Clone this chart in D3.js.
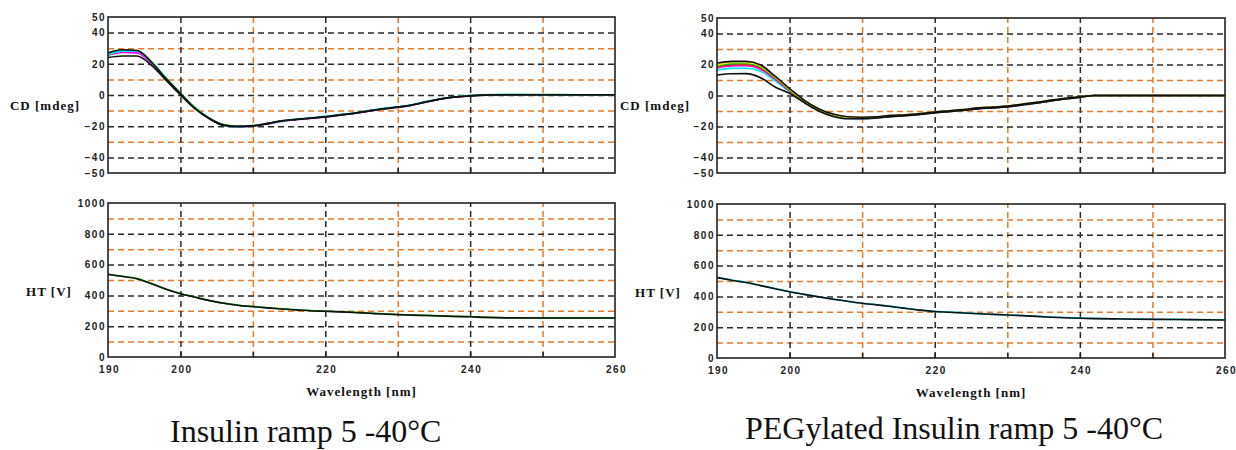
<!DOCTYPE html>
<html>
<head>
<meta charset="utf-8">
<script src="https://cdn.jsdelivr.net/npm/d3@7"></script>
<style>
  body { margin: 0; background: #fff; }
  .tick text { font-family: "Liberation Sans", Arial, sans-serif; font-size: 10px; font-weight: bold; letter-spacing: 1.5px; fill: #222; }
  .title { font-family: "Liberation Serif", "Times New Roman", serif; font-weight: bold; font-size: 13px; letter-spacing: 1px; fill: #111; }
  .caption { font-family: "Liberation Serif", "Times New Roman", serif; font-size: 32px; fill: #111; }
</style>
</head>
<body>
<svg id="chart" width="1236" height="450"></svg>
<script>
// wavelengths (nm) shared by every trace
var wavelength = [190,192,194,196,198,200,202,204,206,208,210,212,214,216,218,220,222,224,226,228,230,232,234,236,238,240,242,245,250,255,260];

// Insulin CD [mdeg]
var insCdBlackTop = [27,29,28.5,21,10.5,1,-8.5,-15,-19.2,-20,-19.6,-18.2,-16.5,-15.6,-14.8,-13.9,-12.8,-11.7,-10.2,-8.8,-7.8,-6.4,-4.3,-2.5,-1.2,-0.5,0,0.2,0.2,0.2,0.2];
var insCdCyan     = [26,28,28,21,10.5,0.5,-8.5,-15.2,-19.5,-20.3,-19.8,-18.4,-16.8,-15.4,-14.6,-13.7,-12.6,-11.5,-10,-8.6,-7.6,-6.2,-4.1,-2.4,-1.1,-0.4,0.1,0.3,0.2,0.2,0.2];
var insCdGreen    = [25.5,28.5,28.5,21.5,11,1.2,-8,-14.8,-19,-20.1,-19.7,-18.3,-16.6,-15.5,-14.7,-13.8,-12.7,-11.6,-10.1,-8.7,-7.7,-6.3,-4.2,-2.4,-1.1,-0.4,0.1,0.3,0.3,0.2,0.2];
var insCdMagenta  = [25.5,27.2,27,20.3,10,0.5,-8.6,-15.1,-19.4,-20.4,-20,-18.6,-16.9,-15.9,-15,-14.1,-13,-11.9,-10.4,-9,-7.9,-6.5,-4.4,-2.6,-1.3,-0.6,-0.1,0.1,0.2,0.2,0.2];
var insCdBlackLow = [24,25,25,19,9.5,0,-8.8,-15.3,-19.5,-20.3,-19.9,-18.5,-16.7,-15.7,-14.9,-14,-12.9,-11.8,-10.3,-8.9,-7.9,-6.5,-4.4,-2.6,-1.3,-0.6,0,0.2,0.2,0.2,0.2];

// PEGylated insulin CD [mdeg]
var pegCdBlackTop = [20.8,22,22,19.7,12.5,4.5,-3,-8.5,-12,-13.7,-14,-13.7,-12.8,-12.4,-11.6,-10.6,-9.8,-9,-8,-7.4,-6.8,-5.6,-4.4,-3,-1.8,-0.8,0,0,0,0,0];
var pegCdYellow   = [19.5,21.3,21.3,19,12,4,-3.2,-8.8,-12.3,-14,-14.3,-13.9,-13,-12.5,-11.7,-10.7,-9.9,-9.1,-8.1,-7.5,-6.9,-5.7,-4.5,-3.1,-1.9,-0.9,0,0,0,0,0];
var pegCdGreen    = [19,20.5,20.6,18.3,11.5,3.7,-3.4,-9,-12.5,-14.2,-14.5,-14,-13.2,-12.6,-11.8,-10.8,-10,-9.2,-8.2,-7.6,-7,-5.8,-4.6,-3.2,-2,-1,0,0,0,0,0];
var pegCdRed      = [18.5,19.8,19.9,17.6,11,3.3,-3.6,-9.2,-12.7,-14.4,-14.6,-14.1,-13.3,-12.7,-11.9,-10.9,-10.1,-9.3,-8.3,-7.7,-7.1,-5.9,-4.7,-3.3,-2,-1,0,0,0,0,0];
var pegCdMagenta  = [17.8,19,19.2,17,10.5,3,-3.8,-9.4,-12.9,-14.6,-14.8,-14.3,-13.4,-12.8,-12,-11,-10.2,-9.4,-8.4,-7.8,-7.2,-6,-4.8,-3.4,-2.1,-1.1,0,0,0,0,0];
var pegCdCyan     = [16.5,17.5,17.6,15.7,9.5,2.4,-4.1,-9.6,-13.1,-14.8,-14.9,-14.4,-13.5,-12.9,-12.1,-11.1,-10.3,-9.5,-8.5,-7.9,-7.3,-6.1,-4.9,-3.5,-2.2,-1.1,0,0,0,0,0];
var pegCdBlackLow = [13.2,14,14.1,11.5,5.5,1.4,-4.5,-10,-13.5,-15,-15,-14.5,-13.6,-13,-12.2,-11.2,-10.4,-9.6,-8.6,-8,-7.4,-6.2,-5,-3.6,-2.3,-1.2,0,0,0,0,0];

// HT [V]
var insHtGreen = [538,524,509,477,441,412,389,367,350,336,328,320,313,307,301,298,294,290,285,280,276,273,270,267,264,262,258,255,254,254,254];
var insHtBlack = [536,523,508,476,440,411,388,366,349,335,327,319,312,306,300,297,293,289,284,279,275,272,269,266,263,261,257,254,253,253,253];
var pegHtCyan  = [524,507,491,471,451,431,414,398,383,369,356,346,335,323,312,303,298,293,288,284,280,276,271,266,262,259,257,255,252,250,248];
var pegHtBlack = [522,505,490,470,450,430,413,397,382,368,355,345,334,322,311,302,297,292,287,283,279,275,270,265,261,258,256,254,251,249,247];

// axis ticks and grid
var cdTickLabels = [50,40,20,0,-20,-40,-50];
var cdGridMajor = [40,20,0,-20,-40];
var cdGridMinor = [30,10,-10,-30];
var htTickLabels = [1000,800,600,400,200,0];
var htGridMajor = [800,600,400,200];
var htGridMinor = [900,700,500,300,100];
var wlTickLabels = [190,200,220,240,260];
var wlGridMajor = [200,220,240];
var wlGridMinor = [210,230,250];

var svg = d3.select("#chart");
var orange = "#e47c2c";
var gridBlack = "#2a2a2a";

function drawPanel(p) {
    var x = d3.scaleLinear().domain([190, 260]).range([p.x0, p.x1]);
    var y = d3.scaleLinear().domain(p.yDomain).range([p.y1, p.y0]);
    var g = svg.append("g");
    var w = p.x1 - p.x0, h = p.y1 - p.y0;

    function styleGrid(color) {
        return function (s) {
            s.select(".domain").remove();
            s.selectAll(".tick line")
                .attr("stroke", color)
                .attr("stroke-width", 1.5)
                .attr("stroke-dasharray", "6,4");
        };
    }

    // orange minor grid first, black major grid over it
    g.append("g").attr("transform", "translate(0," + p.y1 + ")")
        .call(d3.axisBottom(x).tickValues(wlGridMinor).tickSize(-h).tickFormat(""))
        .call(styleGrid(orange));
    g.append("g").attr("transform", "translate(" + p.x0 + ",0)")
        .call(d3.axisLeft(y).tickValues(p.gridMinor).tickSize(-w).tickFormat(""))
        .call(styleGrid(orange));
    g.append("g").attr("transform", "translate(0," + p.y1 + ")")
        .call(d3.axisBottom(x).tickValues(wlGridMajor).tickSize(-h).tickFormat(""))
        .call(styleGrid(gridBlack));
    g.append("g").attr("transform", "translate(" + p.x0 + ",0)")
        .call(d3.axisLeft(y).tickValues(p.gridMajor).tickSize(-w).tickFormat(""))
        .call(styleGrid(gridBlack));

    // traces
    var line = d3.line()
        .x(function (d, i) { return x(wavelength[i]); })
        .y(function (d) { return y(d); })
        .curve(d3.curveMonotoneX);
    p.series.forEach(function (s) {
        g.append("path")
            .attr("d", line(s.values))
            .attr("fill", "none")
            .attr("stroke", s.color)
            .attr("stroke-width", 1.6);
    });

    // frame
    g.append("rect")
        .attr("x", p.x0).attr("y", p.y0)
        .attr("width", w).attr("height", h)
        .attr("fill", "none")
        .attr("stroke", "#222")
        .attr("stroke-width", 1.6);

    // small inward ticks
    g.append("g").attr("transform", "translate(0," + p.y1 + ")")
        .call(d3.axisBottom(x).tickValues(wlGridMajor.concat(wlGridMinor)).tickSize(-5).tickFormat(""))
        .call(function (s) { s.select(".domain").remove(); s.selectAll(".tick line").attr("stroke", "#222").attr("stroke-width", 1.5); });

    // y tick labels
    g.append("g").attr("transform", "translate(" + (p.x0 + 1) + ",0)")
        .call(d3.axisLeft(y).tickValues(p.yTicks).tickSize(0).tickPadding(3).tickFormat(d3.format("d")))
        .call(function (s) { s.select(".domain").remove(); });

    // x tick labels, only on the lower panel
    if (p.showX) {
        g.append("g").attr("transform", "translate(1," + p.y1 + ")")
            .call(d3.axisBottom(x).tickValues(wlTickLabels).tickSize(0).tickPadding(9).tickFormat(d3.format("d")))
            .call(function (s) { s.select(".domain").remove(); });
        g.append("text").attr("class", "title")
            .attr("x", (p.x0 + p.x1) / 2).attr("y", p.y1 + 39)
            .attr("text-anchor", "middle")
            .text("Wavelength [nm]");
    }

    g.append("text").attr("class", "title")
        .attr("x", p.titleX).attr("y", p.titleY)
        .attr("text-anchor", "middle")
        .attr("dy", "0.35em")
        .text(p.title);
}

drawPanel({
    x0: 108, x1: 615, y0: 17, y1: 173, yDomain: [-50, 50],
    yTicks: cdTickLabels, gridMajor: cdGridMajor, gridMinor: cdGridMinor,
    title: "CD [mdeg]", titleX: 45, titleY: 105, showX: false,
    series: [
        { values: insCdMagenta, color: "#ff00ff" },
        { values: insCdGreen, color: "#00c000" },
        { values: insCdCyan, color: "#00e5ff" },
        { values: insCdBlackLow, color: "#111" },
        { values: insCdBlackTop, color: "#111" }
    ]
});
drawPanel({
    x0: 108, x1: 615, y0: 203, y1: 357, yDomain: [0, 1000],
    yTicks: htTickLabels, gridMajor: htGridMajor, gridMinor: htGridMinor,
    title: "HT [V]", titleX: 49, titleY: 291, showX: true,
    series: [
        { values: insHtGreen, color: "#00c000" },
        { values: insHtBlack, color: "#111" }
    ]
});
drawPanel({
    x0: 717, x1: 1225, y0: 18, y1: 173, yDomain: [-50, 50],
    yTicks: cdTickLabels, gridMajor: cdGridMajor, gridMinor: cdGridMinor,
    title: "CD [mdeg]", titleX: 655, titleY: 105, showX: false,
    series: [
        { values: pegCdCyan, color: "#00e5ff" },
        { values: pegCdMagenta, color: "#ff00ff" },
        { values: pegCdRed, color: "#ff2020" },
        { values: pegCdGreen, color: "#00c000" },
        { values: pegCdYellow, color: "#ffe600" },
        { values: pegCdBlackLow, color: "#111" },
        { values: pegCdBlackTop, color: "#111" }
    ]
});
drawPanel({
    x0: 717, x1: 1225, y0: 204, y1: 358, yDomain: [0, 1000],
    yTicks: htTickLabels, gridMajor: htGridMajor, gridMinor: htGridMinor,
    title: "HT [V]", titleX: 658, titleY: 292, showX: true,
    series: [
        { values: pegHtCyan, color: "#00e5ff" },
        { values: pegHtBlack, color: "#111" }
    ]
});

svg.append("text").attr("class", "caption")
    .attr("x", 170).attr("y", 442)
    .text("Insulin ramp 5 -40°C");
svg.append("text").attr("class", "caption")
    .attr("x", 745).attr("y", 439)
    .text("PEGylated Insulin ramp 5 -40°C");
</script>
</body>
</html>
